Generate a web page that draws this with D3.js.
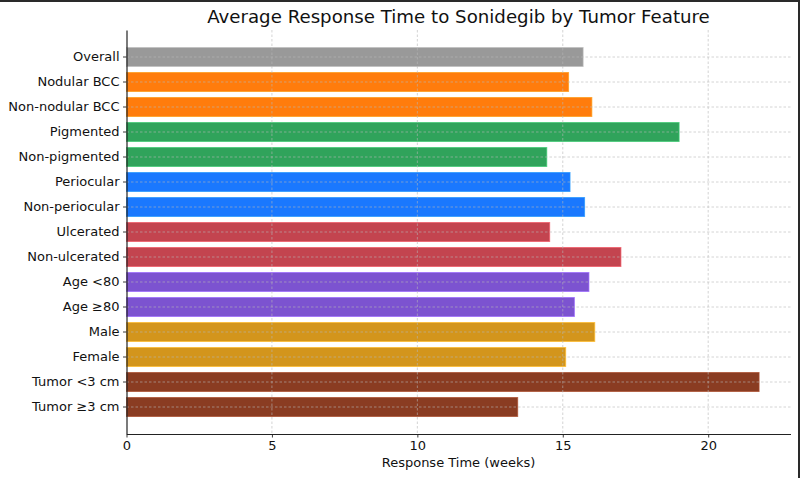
<!DOCTYPE html>
<html>
<head>
<meta charset="utf-8">
<script src="https://cdn.jsdelivr.net/npm/d3@7"></script>
<style>
  html, body { margin: 0; padding: 0; background: #fff; }
  svg { display: block; font-family: "DejaVu Sans", sans-serif; }
</style>
</head>
<body>
<svg id="chart" width="800" height="478"></svg>
<script>
const categories = ["Overall", "Nodular BCC", "Non-nodular BCC", "Pigmented", "Non-pigmented",
  "Periocular", "Non-periocular", "Ulcerated", "Non-ulcerated", "Age <80", "Age \u226580",
  "Male", "Female", "Tumor <3 cm", "Tumor \u22653 cm"];
const values = [15.7, 15.2, 16.0, 19.0, 14.45, 15.25, 15.75, 14.55, 17.0, 15.9, 15.4, 16.1, 15.1, 21.75, 13.45];
const colors = ["#999999", "#ff7c0c", "#ff7c0c", "#30a35b", "#30a35b", "#1a78fe", "#1a78fe",
  "#c3444f", "#c3444f", "#7c53d0", "#7c53d0", "#d3951c", "#d3951c", "#8a3c22", "#8a3c22"];
const xTicks = [0, 5, 10, 15, 20];
const title = "Average Response Time to Sonidegib by Tumor Feature";
const xLabel = "Response Time (weeks)";

const svg = d3.select("#chart");
const W = 800, H = 478;
const m = { left: 126.5, right: 790.5, top: 30, bottom: 434 };

const x = d3.scaleLinear().domain([0, 22.83]).range([m.left, m.right]);
const y = d3.scaleBand().domain(categories).range([m.top, m.bottom])
  .paddingInner(0.24).paddingOuter(0.7);

// bars
svg.append("g").selectAll("rect").data(values).join("rect")
  .attr("x", x(0))
  .attr("y", (d, i) => y(categories[i]))
  .attr("width", d => x(d) - x(0))
  .attr("height", y.bandwidth())
  .attr("fill", (d, i) => colors[i])
  .attr("stroke", (d, i) => d3.color(colors[i]).brighter(0.6))
  .attr("stroke-opacity", 0.7)
  .attr("stroke-width", 1);

// grid on top
const grid = svg.append("g").attr("stroke", "#b8b8b8").attr("stroke-width", 0.8)
  .attr("stroke-dasharray", "2.5,2").attr("opacity", 0.75);
grid.selectAll("line.v").data(xTicks.slice(1)).join("line").attr("class", "v")
  .attr("x1", d => x(d)).attr("x2", d => x(d)).attr("y1", m.top).attr("y2", m.bottom);
grid.selectAll("line.h").data(categories).join("line").attr("class", "h")
  .attr("x1", m.left).attr("x2", m.right)
  .attr("y1", d => y(d) + y.bandwidth() / 2).attr("y2", d => y(d) + y.bandwidth() / 2);

// axes
const xAxis = svg.append("g").attr("transform", `translate(0,${m.bottom})`)
  .call(d3.axisBottom(x).tickValues(xTicks).tickFormat(d3.format("d")).tickSizeInner(3.5).tickSizeOuter(0).tickPadding(3.5));
const yAxis = svg.append("g").attr("transform", `translate(${m.left},0)`)
  .call(d3.axisLeft(y).tickSizeInner(3.5).tickSizeOuter(0).tickPadding(3.5));
[xAxis, yAxis].forEach(a => {
  a.select(".domain").attr("stroke", "#222").attr("stroke-width", 1.2);
  a.selectAll(".tick line").attr("stroke", "#222").attr("stroke-width", 0.9);
  a.selectAll(".tick text").attr("fill", "#111").style("font-size", "13px")
    .style("font-family", "'DejaVu Sans', sans-serif");
});

// title and label
svg.append("text").attr("x", (m.left + m.right) / 2).attr("y", 23)
  .attr("text-anchor", "middle").attr("fill", "#111")
  .style("font-size", "18.2px").text(title);
svg.append("text").attr("x", (m.left + m.right) / 2).attr("y", 467)
  .attr("text-anchor", "middle").attr("fill", "#111")
  .style("font-size", "13px").text(xLabel);

// frame (top and right dark edges)
svg.append("line").attr("x1", 0).attr("x2", W).attr("y1", 1).attr("y2", 1)
  .attr("stroke", "#2a2a2a").attr("stroke-width", 2);
svg.append("line").attr("x1", W - 1).attr("x2", W - 1).attr("y1", 0).attr("y2", H)
  .attr("stroke", "#2a2a2a").attr("stroke-width", 2);
</script>
</body>
</html>
